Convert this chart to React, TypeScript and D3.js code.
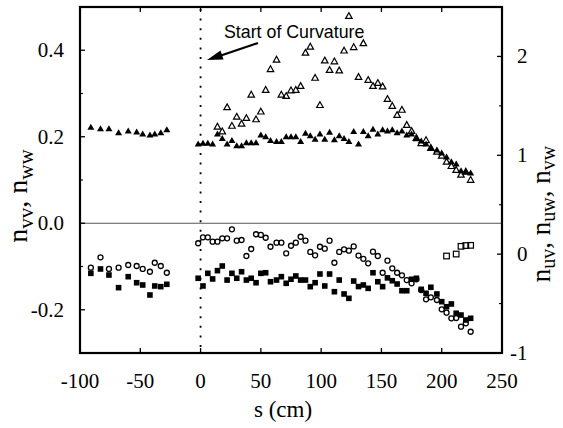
import React, { useEffect, useRef } from "react";
import * as d3 from "d3";

// stations (cm)
const S_PRE = [-91, -83, -76, -68, -60, -53, -48, -42, -38, -33, -28];
const S_POST = [-2, 2, 6, 10, 14, 18, 22, 26, 30, 34, 38, 42, 46, 50, 54, 58, 63, 67, 71, 75, 79, 83, 87, 91, 95, 99, 103, 107, 111, 115, 119, 123, 127, 131, 135, 139, 143, 147, 151, 155, 159, 163, 167, 171, 175, 179, 183, 187, 191, 196, 200, 204, 208, 212, 216, 220, 224];

// left axis series
const NVV_PRE = [0.222, 0.218, 0.218, 0.209, 0.213, 0.211, 0.206, 0.204, 0.206, 0.209, 0.216];
const NVV_POST = [0.183, 0.185, 0.185, 0.183, 0.206, 0.196, 0.183, 0.191, 0.179, 0.179, 0.186, 0.186, 0.186, 0.204, 0.2, 0.191, 0.189, 0.189, 0.2, 0.2, 0.2, 0.189, 0.208, 0.202, 0.194, 0.206, 0.194, 0.21, 0.193, 0.202, 0.196, 0.189, 0.212, 0.183, 0.212, 0.202, 0.217, 0.206, 0.216, 0.213, 0.216, 0.209, 0.213, 0.204, 0.206, 0.195, 0.19, 0.183, 0.174, 0.169, 0.162, 0.153, 0.142, 0.137, 0.121, 0.119, 0.116];
const NWW_POST = [null, null, null, null, 0.223, 0.212, 0.268, 0.225, 0.246, 0.23, 0.243, 0.297, 0.24, 0.258, 0.308, 0.356, 0.378, 0.297, 0.294, 0.307, 0.308, 0.317, 0.394, 0.408, 0.336, 0.273, 0.376, 0.354, 0.374, 0.353, 0.399, 0.479, 0.407, 0.338, 0.416, 0.331, 0.317, 0.324, 0.316, 0.287, 0.271, 0.25, 0.262, 0.227, 0.213, 0.197, 0.185, 0.192, 0.174, 0.165, 0.156, 0.142, 0.132, 0.123, 0.112, 0.119, 0.1];

// right axis series
const NUV_PRE = [-0.137, -0.032, -0.15, -0.137, -0.11, -0.12, -0.15, -0.178, -0.087, -0.12, -0.188];
const NUV_POST = [0.11, 0.17, 0.17, 0.126, 0.126, 0.16, 0.16, 0.251, 0.136, 0.143, -0.019, 0.052, 0.201, 0.194, 0.166, 0.075, 0.116, 0.116, 0.008, 0.085, 0.116, 0.176, 0.136, 0.022, -0.012, 0.075, 0.055, 0.136, -0.087, 0.022, 0.049, 0.035, 0.078, -0.014, -0.047, -0.093, 0.025, -0.019, -0.188, -0.066, -0.143, -0.188, -0.214, -0.262, -0.295, -0.254, -0.363, -0.457, -0.437, -0.464, -0.558, -0.592, -0.649, -0.646, -0.734, -0.7, -0.785];
const NUW_PRE = [-0.194, -0.15, -0.211, -0.339, -0.228, -0.289, -0.312, -0.413, -0.322, -0.329, -0.305];
const NUW_POST = [-0.244, -0.322, -0.194, -0.251, -0.167, -0.12, -0.262, -0.194, -0.244, -0.178, -0.262, -0.244, -0.289, -0.194, -0.188, -0.279, -0.262, -0.228, -0.295, -0.254, -0.221, -0.262, -0.262, -0.329, -0.289, -0.201, -0.322, -0.201, -0.38, -0.262, -0.403, -0.447, -0.272, -0.328, -0.312, -0.346, -0.188, -0.279, -0.329, -0.24, -0.269, -0.302, -0.37, -0.37, -0.254, -0.244, -0.356, -0.396, -0.335, -0.403, -0.481, -0.532, -0.504, -0.598, -0.616, -0.666, -0.649];
const NVW_S = [204, 212, 216, 220, 224];
const NVW = [-0.019, 0.001, 0.079, 0.087, 0.089];

const X_TICKS = [-100, -50, 0, 50, 100, 150, 200, 250];
const YL_TICKS = [0.4, 0.2, 0.0, -0.2];
const YL_MINOR = [0.3, 0.1, -0.1];
const YR_TICKS = [2, 1, 0, -1];
const YR_MINOR = [1.5, 0.5, -0.5];

const W = 563, H = 428;
const L = 80, R = 502, T = 7, B = 353;

const x = d3.scaleLinear().domain([-100, 250]).range([L, R]);
const yL = d3.scaleLinear().domain([-0.3, 0.5]).range([B, T]);
const yR = d3.scaleLinear().domain([-1, 2.5]).range([B, T]);

type P = { s: number; v: number };
const pairs = (s: number[], v: (number | null)[]): P[] =>
  s.map((si, i) => ({ s: si, v: v[i] as number })).filter((d) => d.v !== null && d.v !== undefined);

const nvv = [...pairs(S_PRE, NVV_PRE), ...pairs(S_POST, NVV_POST)];
const nww = pairs(S_POST, NWW_POST);
const nuv = [...pairs(S_PRE, NUV_PRE), ...pairs(S_POST, NUV_POST)];
const nuw = [...pairs(S_PRE, NUW_PRE), ...pairs(S_POST, NUW_POST)];
const nvw = pairs(NVW_S, NVW);

const tri = (cx: number, cy: number, w: number, h: number) =>
  `M${cx},${cy - h * 0.6}L${cx + w / 2},${cy + h * 0.4}L${cx - w / 2},${cy + h * 0.4}Z`;

const SERIF = '"Liberation Serif"';
const SANS = '"Liberation Sans"';
const TICK_FS = 21;

export default function App() {
  const textRef = useRef<SVGGElement | null>(null);

  useEffect(() => {
    const g = d3.select(textRef.current);
    g.selectAll("*").remove();
    const ser = (sel: any) => sel.style("font-family", SERIF);

    g.selectAll("text.xl")
      .data(X_TICKS)
      .join("text")
      .attr("class", "xl")
      .attr("x", (d) => x(d))
      .attr("y", 388)
      .attr("text-anchor", "middle")
      .attr("font-size", TICK_FS)
      .call(ser)
      .text((d) => String(d));

    g.selectAll("text.yl")
      .data(YL_TICKS)
      .join("text")
      .attr("class", "yl")
      .attr("x", 64)
      .attr("y", (d) => yL(d) + 7)
      .attr("text-anchor", "end")
      .attr("font-size", TICK_FS)
      .call(ser)
      .text((d) => d.toFixed(1));

    g.selectAll("text.yr")
      .data(YR_TICKS)
      .join("text")
      .attr("class", "yr")
      .attr("x", (d) => (d < 0 ? 510 : 517))
      .attr("y", (d) => yR(d) + 7)
      .attr("font-size", TICK_FS)
      .call(ser)
      .text((d) => String(d));

    g.append("text")
      .attr("x", 283)
      .attr("y", 417)
      .attr("text-anchor", "middle")
      .attr("font-size", 23)
      .call(ser)
      .text("s (cm)");

    const subLabel = (tx: number, ty: number, parts: string[], fs: number, sfs: number, dy: number) => {
      const t = g
        .append("text")
        .attr("transform", `translate(${tx},${ty}) rotate(-90)`)
        .attr("text-anchor", "middle")
        .attr("font-size", fs)
        .call(ser);
      parts.forEach((p, i) => {
        t.append("tspan").attr("dy", i === 0 ? 0 : -dy).text(i === 0 ? "n" : ", n");
        t.append("tspan").attr("font-size", sfs).attr("dy", dy).text(p);
      });
    };
    subLabel(27, 196, ["vv", "ww"], 28, 21, 6);
    subLabel(550, 214, ["uv", "uw", "vw"], 27, 20, 5);

    g.append("text")
      .attr("x", 224)
      .attr("y", 37.5)
      .attr("font-size", 17.8)
      .style("font-family", SANS)
      .text("Start of Curvature");
  }, []);

  return (
    <svg width={W} height={H} style={{ position: "absolute", left: 0, top: 0, background: "#fff" }}>
      <rect x={0} y={0} width={W} height={H} fill="#fff" />
      {/* zero line */}
      <line x1={L} x2={R} y1={yL(0)} y2={yL(0)} stroke="#555" strokeWidth={1} />
      {/* dotted line at s=0 */}
      <line x1={x(0)} x2={x(0)} y1={T + 2} y2={B} stroke="#000" strokeWidth={1.8} strokeDasharray="2 7.6" />

      {/* markers */}
      {nuw.map((d, i) => (
        <rect key={"uw" + i} x={x(d.s) - 2.8} y={yR(d.v) - 2.8} width={5.6} height={5.6} fill="#000" />
      ))}
      {nuv.map((d, i) => (
        <circle key={"uv" + i} cx={x(d.s)} cy={yR(d.v)} r={2.5} fill="none" stroke="#000" strokeWidth={1.3} />
      ))}
      {nvw.map((d, i) => (
        <rect key={"vw" + i} x={x(d.s) - 2.8} y={yR(d.v) - 2.8} width={5.6} height={5.6} fill="none" stroke="#000" strokeWidth={1.2} />
      ))}
      {nvv.map((d, i) => (
        <path key={"vv" + i} d={tri(x(d.s), yL(d.v), 7, 6)} fill="#000" />
      ))}
      {nww.map((d, i) => (
        <path key={"ww" + i} d={tri(x(d.s), yL(d.v), 6.5, 5.8)} fill="none" stroke="#000" strokeWidth={1.2} />
      ))}

      {/* frame */}
      <rect x={L} y={T} width={R - L} height={B - T} fill="none" stroke="#000" strokeWidth={2.2} />

      {/* x ticks */}
      {X_TICKS.slice(1, -1).map((t) => (
        <g key={"xt" + t}>
          <line x1={x(t)} x2={x(t)} y1={B} y2={B - 5} stroke="#000" strokeWidth={1.3} />
          <line x1={x(t)} x2={x(t)} y1={T} y2={T + 5} stroke="#000" strokeWidth={1.3} />
        </g>
      ))}

      {/* y ticks */}
      {YL_TICKS.map((t) => (
        <line key={"yl" + t} x1={L} x2={L + 5} y1={yL(t)} y2={yL(t)} stroke="#000" strokeWidth={1.3} />
      ))}
      {YL_MINOR.map((t) => (
        <line key={"ylm" + t} x1={L} x2={L + 3} y1={yL(t)} y2={yL(t)} stroke="#000" strokeWidth={1.1} />
      ))}
      {YR_TICKS.map((t) => (
        <line key={"yr" + t} x1={R} x2={R - 5} y1={yR(t)} y2={yR(t)} stroke="#000" strokeWidth={1.3} />
      ))}
      {YR_MINOR.map((t) => (
        <line key={"yrm" + t} x1={R} x2={R - 3} y1={yR(t)} y2={yR(t)} stroke="#000" strokeWidth={1.1} />
      ))}

      {/* texts drawn by d3 */}
      <g ref={textRef} />

      {/* annotation arrow */}
      <line x1={258} y1={43} x2={218} y2={56.5} stroke="#000" strokeWidth={2.2} />
      <path d="M207,60 L220.5,50.5 L223.5,59.5 Z" fill="#000" />
    </svg>
  );
}
